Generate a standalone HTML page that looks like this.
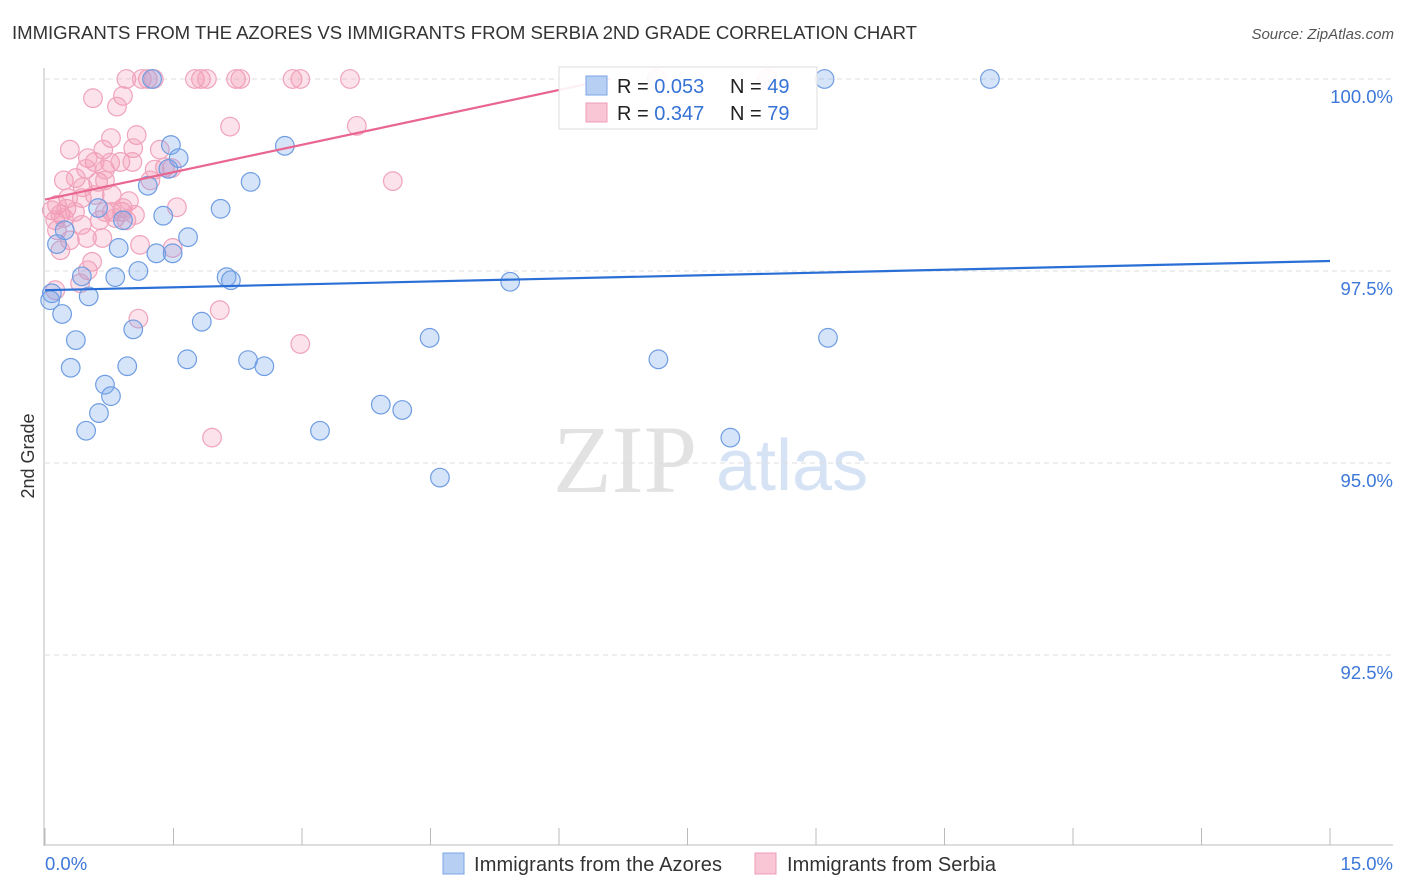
<!DOCTYPE html>
<html><head><meta charset="utf-8"><style>
body{margin:0;background:#fff;font-family:"Liberation Sans",sans-serif;}
#wrap{position:relative;width:1406px;height:892px;overflow:hidden;}
</style></head><body>
<div id="wrap">
<svg id="svg" width="1406" height="892" xmlns="http://www.w3.org/2000/svg">
<text x="12" y="39" font-size="18.6" fill="#333" textLength="905">IMMIGRANTS FROM THE AZORES VS IMMIGRANTS FROM SERBIA 2ND GRADE CORRELATION CHART</text>
<text x="1394" y="39" font-size="15" fill="#555" font-style="italic" text-anchor="end">Source: ZipAtlas.com</text>
<text x="0" y="0" transform="translate(34,456) rotate(-90)" font-size="18" fill="#333" text-anchor="middle">2nd Grade</text>
<g>
<text x="553" y="492" font-family="Liberation Serif,serif" font-size="96" fill="#e2e2e2">ZIP</text>
<text x="716" y="490" font-size="72" fill="#d6e3f5">atlas</text>
</g>
<g id="grid"></g><g id="axes"></g><g id="pts"></g><g id="lines"></g>
<g>
<rect x="559" y="67" width="258" height="62" fill="#fff" fill-opacity="0.9" stroke="#ddd"/>
<rect x="586" y="76" width="21" height="19" fill="#b7cff3" stroke="#7ba4e4"/>
<rect x="586" y="103" width="21" height="19" fill="#f9c6d5" stroke="#ef9cb7"/>
<text x="617" y="93" font-size="20" fill="#222">R = <tspan fill="#3572d6">0.053</tspan></text>
<text x="730" y="93" font-size="20" fill="#222">N = <tspan fill="#3572d6">49</tspan></text>
<text x="617" y="120" font-size="20" fill="#222">R = <tspan fill="#3572d6">0.347</tspan></text>
<text x="730" y="120" font-size="20" fill="#222">N = <tspan fill="#3572d6">79</tspan></text>
</g>
<g>
<rect x="443" y="853" width="21" height="21" fill="#b7cff3" stroke="#7ba4e4"/>
<text x="474" y="871" font-size="20" fill="#333" textLength="248">Immigrants from the Azores</text>
<rect x="755" y="853" width="21" height="21" fill="#f9c6d5" stroke="#ef9cb7"/>
<text x="787" y="871" font-size="20" fill="#333" textLength="209">Immigrants from Serbia</text>
</g>
</svg>
</div>
<script>
const yTicks=[100,97.5,95,92.5];
const yTickLabels=["100.0%","97.5%","95.0%","92.5%"];
const xTicks=[0,1.5,3,4.5,6,7.5,9,10.5,12,13.5,15];
const xEndLabels=["0.0%","15.0%"];
const azoresX=[1.25,9.10,11.03,1.47,2.80,1.56,1.44,1.20,2.40,0.62,2.05,1.38,0.91,0.23,1.67,0.14,0.86,1.30,1.49,1.09,0.43,0.82,2.12,2.17,5.43,0.08,0.06,0.51,0.20,1.83,1.03,0.36,4.49,9.14,1.66,2.37,7.16,0.30,0.96,2.56,0.70,0.77,3.92,4.17,0.63,0.48,3.21,8.00,4.61];
const azoresY=[100,100,100,99.14,99.13,98.97,98.83,98.61,98.66,98.32,98.31,98.22,98.16,98.03,97.94,97.85,97.80,97.73,97.73,97.50,97.43,97.42,97.42,97.38,97.36,97.21,97.12,97.17,96.94,96.84,96.74,96.60,96.63,96.63,96.35,96.34,96.35,96.24,96.26,96.26,96.02,95.87,95.76,95.69,95.65,95.42,95.42,95.33,94.81];
const serbiaX=[0.95,1.13,1.20,1.27,1.75,1.82,1.89,2.23,2.28,2.89,2.98,3.56,7.14,8.43,0.56,0.91,0.84,2.16,3.64,0.77,1.07,0.29,0.68,1.03,0.50,0.76,0.88,1.02,0.58,1.40,1.28,1.48,4.06,0.22,0.36,0.62,0.70,0.48,0.44,0.27,0.43,0.14,0.08,0.18,0.25,0.35,0.70,0.78,0.90,0.98,0.91,1.54,0.64,0.82,0.12,0.22,0.43,0.95,0.14,0.49,0.67,1.11,1.49,0.55,0.50,0.41,0.12,1.09,2.04,2.98,1.95,0.58,0.29,0.18,0.78,1.23,1.34,0.70,1.05];
const serbiaY=[100,100,100,100,100,100,100,100,100,100,100,100,100,100,99.75,99.78,99.64,99.38,99.39,99.23,99.27,99.08,99.08,99.10,98.97,98.91,98.92,98.92,98.92,98.85,98.82,98.84,98.67,98.68,98.71,98.66,98.68,98.83,98.59,98.45,98.45,98.36,98.29,98.24,98.31,98.27,98.27,98.27,98.27,98.41,98.32,98.33,98.16,98.19,98.16,98.19,98.10,98.16,98.03,97.93,97.93,97.84,97.80,97.62,97.51,97.34,97.25,96.88,96.99,96.55,95.33,98.49,97.90,97.77,98.49,98.68,99.08,98.82,98.23];
const azoresTrend=[0,97.25,15,97.63];
const serbiaTrend=[0,98.43,6.6,100.0];
const NS="http://www.w3.org/2000/svg";
const X=v=>45+v*(1330-45)/15;
const Y=v=>79+(100-v)*76.8;
function mk(tag,attrs,parent){const e=document.createElementNS(NS,tag);for(const k in attrs)e.setAttribute(k,attrs[k]);parent.appendChild(e);return e;}
const grid=document.getElementById('grid'),axes=document.getElementById('axes'),pts=document.getElementById('pts'),lines=document.getElementById('lines');
yTicks.forEach((t,i)=>{
 const l=mk('line',{x1:45,x2:1393,y1:Y(t),y2:Y(t),stroke:'#ddd','stroke-dasharray':'5,4'},grid);
 
 
 const tx=mk('text',{x:1393,y:Y(t)+24,'font-size':18.5,fill:'#3d78d8','text-anchor':'end'},axes);
 tx.textContent=yTickLabels[i];
 
 
});
const ya=mk('line',{x1:44,x2:44,y1:68,y2:846,stroke:'#bbb'},axes);


const xa=mk('line',{x1:44,x2:1393,y1:845,y2:845,stroke:'#bbb'},axes);


xTicks.forEach(t=>{
 const l=mk('line',{x1:X(t),x2:X(t),y1:828,y2:845,stroke:'#bbb'},axes);
 
 
});
const xl0=mk('text',{x:45,y:870,'font-size':18.5,fill:'#3d78d8'},axes);xl0.textContent=xEndLabels[0];


const xl1=mk('text',{x:1393,y:870,'font-size':18.5,fill:'#3d78d8','text-anchor':'end'},axes);xl1.textContent=xEndLabels[1];


serbiaX.forEach((x,i)=>{
 const c=mk('circle',{cx:X(x),cy:Y(serbiaY[i]),r:9.3,fill:'rgba(244,150,180,0.28)',stroke:'#f0a3bc','stroke-width':1.2},pts);
 
 
});
azoresX.forEach((x,i)=>{
 const c=mk('circle',{cx:X(x),cy:Y(azoresY[i]),r:9.3,fill:'rgba(120,165,235,0.3)',stroke:'#6f9de2','stroke-width':1.2},pts);
 
 
});
const la=mk('line',{x1:X(azoresTrend[0]),y1:Y(azoresTrend[1]),x2:X(azoresTrend[2]),y2:Y(azoresTrend[3]),stroke:'#2a6fd6','stroke-width':2.2},lines);


const ls=mk('line',{x1:X(serbiaTrend[0]),y1:Y(serbiaTrend[1]),x2:X(serbiaTrend[2]),y2:Y(serbiaTrend[3]),stroke:'#e8668f','stroke-width':2.2},lines);


</script>
</body></html>
